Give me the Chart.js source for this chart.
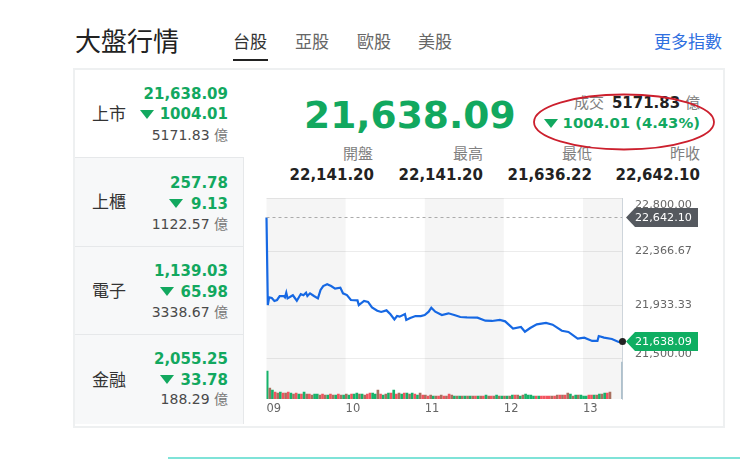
<!DOCTYPE html>
<html>
<head>
<meta charset="utf-8">
<script src="https://cdn.jsdelivr.net/npm/chart.js@4"></script>
<style>
html, body { margin: 0; padding: 0; background: #fff; overflow: hidden; }
body { width: 740px; height: 459px; position: relative; font-family: "DejaVu Sans", "Noto Sans CJK TC", sans-serif; }
.t { position: absolute; white-space: nowrap; line-height: 20px; height: 20px; }
.r { text-align: right; }
.cjk { font-family: "Noto Sans CJK TC", sans-serif; }
.g { color: #12a85f; font-weight: bold; font-size: 15px; }
.k { color: #4a4a4a; font-size: 14px; }
.lb { color: #808080; font-size: 15px; font-family: "Noto Sans CJK TC", sans-serif; }
.v { color: #222; font-weight: bold; font-size: 15px; }
.tab { color: #666; font-size: 17px; font-family: "Noto Sans CJK TC", sans-serif; }
.name { color: #333; font-size: 17px; font-family: "Noto Sans CJK TC", sans-serif; }
.tri { position: absolute; width: 0; height: 0; border-left: 7px solid transparent; border-right: 7px solid transparent; border-top: 9px solid #12a85f; }
#card { position: absolute; left: 73px; top: 68px; width: 648px; height: 356px; border: 2px solid #eef0f1; box-sizing: content-box; }
.row { position: absolute; left: 75px; width: 168px; background: #f7f8f9; border-top: 1px solid #e6e8ea; border-right: 1px solid #e6e8ea; }
canvas { position: absolute; left: 260px; top: 190px; }
#foot { position: absolute; left: 168px; top: 457px; width: 572px; height: 2px; background: #7fe3d8; }
svg { position: absolute; left: 0; top: 0; }
</style>
</head>
<body>
<div class="t cjk" style="left:75px;top:24px;height:32px;line-height:32px;font-size:26px;color:#222">大盤行情</div>
<div class="t tab" style="left:233px;top:31px;color:#333">台股</div>
<div style="position:absolute;left:233px;top:59px;width:35px;height:2px;background:#222"></div>
<div class="t tab" style="left:295px;top:31px">亞股</div>
<div class="t tab" style="left:357px;top:31px">歐股</div>
<div class="t tab" style="left:418px;top:31px">美股</div>
<div class="t tab" style="left:654px;top:31px;color:#2f6fe0">更多指數</div>

<div id="card"></div>
<div class="row" style="top:157px;height:88px"></div>
<div class="row" style="top:246px;height:87px"></div>
<div class="row" style="top:334px;height:89px"></div>

<div class="t name" style="left:92px;top:103px">上市</div>
<div class="t g r" style="right:512px;top:84px">21,638.09</div>
<div class="tri" style="left:140px;top:110px"></div>
<div class="t g r" style="right:512px;top:104px">1004.01</div>
<div class="t k r" style="right:512px;top:124px">5171.83 <span class="cjk" style="color:#777">億</span></div>

<div class="t name" style="left:92px;top:191px">上櫃</div>
<div class="t g r" style="right:512px;top:173px">257.78</div>
<div class="tri" style="left:169px;top:199px"></div>
<div class="t g r" style="right:512px;top:194px">9.13</div>
<div class="t k r" style="right:512px;top:213px">1122.57 <span class="cjk" style="color:#777">億</span></div>

<div class="t name" style="left:92px;top:280px">電子</div>
<div class="t g r" style="right:512px;top:261px">1,139.03</div>
<div class="tri" style="left:160px;top:287px"></div>
<div class="t g r" style="right:512px;top:282px">65.98</div>
<div class="t k r" style="right:512px;top:301px">3338.67 <span class="cjk" style="color:#777">億</span></div>

<div class="t name" style="left:92px;top:369px">金融</div>
<div class="t g r" style="right:512px;top:349px">2,055.25</div>
<div class="tri" style="left:160px;top:375px"></div>
<div class="t g r" style="right:512px;top:370px">33.78</div>
<div class="t k r" style="right:512px;top:388px">188.29 <span class="cjk" style="color:#777">億</span></div>

<div class="t g" style="left:304px;top:90px;height:50px;line-height:50px;font-size:37.6px">21,638.09</div>

<div class="t r" style="right:40px;top:92px;font-size:15px;color:#222"><span class="cjk" style="color:#808080;margin-right:3px">成交</span> <b>5171.83</b> <span class="cjk" style="color:#808080">億</span></div>
<div class="tri" style="left:544px;top:119px"></div>
<div class="t g r" style="right:40px;top:113px;font-size:14.8px">1004.01 (4.43%)</div>

<div class="t lb r" style="right:367px;top:143px">開盤</div>
<div class="t lb r" style="right:257px;top:143px">最高</div>
<div class="t lb r" style="right:148px;top:143px">最低</div>
<div class="t lb r" style="right:40px;top:143px">昨收</div>
<div class="t v r" style="right:366px;top:165px">22,141.20</div>
<div class="t v r" style="right:257px;top:165px">22,141.20</div>
<div class="t v r" style="right:148px;top:165px">21,636.22</div>
<div class="t v r" style="right:40px;top:165px">22,642.10</div>

<canvas id="marketChart" width="460" height="230"></canvas>

<svg width="740" height="459"><ellipse cx="624" cy="122" rx="90" ry="27.5" fill="none" stroke="#cc1f2d" stroke-width="1.8"/></svg>
<div id="foot"></div>

<script>
// 盤中走勢 (從圖上讀出的估計值)
const minutes = [0, 1, 2, 4, 6, 8, 10, 13, 14, 15, 16, 19, 20, 23, 26, 28, 30, 31, 33, 36, 39, 41, 43, 46, 49, 52, 56, 58, 61, 64, 69, 70, 74, 77, 80, 84, 87, 91, 94, 97, 99, 101, 105, 106, 109, 113, 117, 120, 123, 125, 128, 133, 138, 143, 147, 152, 160, 166, 171, 177, 181, 187, 193, 196, 200, 205, 212, 217, 224, 229, 236, 241, 247, 251, 252, 256, 262, 267, 270];
const index = [22642.1, 21933, 21995, 21990, 21966, 21974, 22006, 22006, 21995, 22033, 21987, 22006, 22012, 21968, 22022, 22012, 22033, 22006, 22028, 22006, 21987, 22055, 22087, 22101, 22087, 22066, 22074, 22028, 22014, 21974, 21971, 21933, 21966, 21958, 21914, 21887, 21877, 21890, 21858, 21817, 21844, 21839, 21860, 21812, 21828, 21844, 21844, 21852, 21879, 21912, 21879, 21852, 21866, 21850, 21836, 21833, 21831, 21806, 21804, 21812, 21801, 21742, 21755, 21717, 21747, 21777, 21788, 21774, 21725, 21715, 21661, 21669, 21642, 21642, 21682, 21669, 21658, 21634, 21638.09];

// 成交量,每兩分鐘一根,最後一根是收盤
const volume = [112, 44, 36, 28, 24, 28, 24, 24, 28, 24, 20, 24, 20, 20, 28, 20, 20, 16, 20, 20, 16, 20, 16, 16, 20, 16, 16, 20, 16, 16,
  20, 16, 20, 20, 24, 20, 20, 16, 20, 24, 24, 20, 36, 20, 16, 20, 24, 24, 36, 20, 24, 20, 24, 24, 20, 24, 20, 16, 24, 16,
  16, 12, 16, 12, 12, 12, 16, 12, 12, 20, 16, 12, 12, 12, 12, 12, 12, 12, 12, 12, 12, 12, 12, 16, 12, 12, 12, 16, 12, 12,
  12, 12, 12, 16, 16, 16, 12, 16, 20, 16, 16, 12, 12, 12, 12, 12, 12, 12, 12, 12, 16, 16, 16, 16, 24, 20, 12, 16, 16, 16,
  12, 12, 16, 16, 16, 16, 20, 20, 24, 24, 28, 148];
const volumeSide = 'gbgrbgrbrgbrgrgbrbggbrbgrbgrbg' + 'bgrggbgbrrggbrgbgrgrbgrgbgrgbr' + 'brbgbrbrbrbgbgbgbgbrgbrgbrbgbg' + 'bgbgrbgbggggrgrrrrbrbrbrbgbgbg' + 'ggrrgbgbgrbb';
const volumeMinutes = volume.map((v, i) => i === volume.length - 1 ? 270 : i * 2 + 0.5);

const yTicks = [22800, 22366.67, 21933.33, 21500];
const yTickLabels = ['22,800.00', '22,366.67', '21,933.33', '21,500.00'];
const hourLabels = ['09', '10', '11', '12', '13'];
const prevClose = 22642.10;
const lastPrice = 21638.09;
const shadedHours = [[0, 60], [120, 180], [240, 270]];

const sideColor = { g: '#16b36a', r: '#f2545f', b: '#a8705f' };

function drawTag(ctx, x, y, text, color) {
    ctx.save();
    ctx.fillStyle = color;
    ctx.beginPath();
    ctx.moveTo(x, y);
    ctx.lineTo(x + 9, y - 9.5);
    ctx.lineTo(x + 72, y - 9.5);
    ctx.lineTo(x + 72, y + 9.5);
    ctx.lineTo(x + 9, y + 9.5);
    ctx.closePath();
    ctx.fill();
    ctx.fillStyle = '#fff';
    ctx.font = '11.2px "DejaVu Sans"';
    ctx.textBaseline = 'middle';
    ctx.fillText(text, x + 9, y + 0.5);
    ctx.restore();
}

const bandsAndTags = {
    id: 'bandsAndTags',
    beforeDatasetsDraw(chart) {
        const { ctx, chartArea, scales } = chart;
        ctx.save();
        ctx.fillStyle = 'rgba(0,0,0,0.04)';
        shadedHours.forEach(h => {
            const x1 = scales.x.getPixelForValue(h[0]);
            const x2 = scales.x.getPixelForValue(h[1]);
            ctx.fillRect(x1, chartArea.top, x2 - x1, chartArea.bottom - chartArea.top);
        });
        ctx.restore();
    },
    afterDraw(chart) {
        const { ctx, chartArea, scales } = chart;
        const tagX = chartArea.right + 3.5;
        drawTag(ctx, tagX, scales.y.getPixelForValue(prevClose), '22,642.10', '#55595f');
        drawTag(ctx, tagX, scales.y.getPixelForValue(lastPrice), '21,638.09', '#0fae62');
    }
};

new Chart(document.getElementById('marketChart'), {
    data: {
        datasets: [
            {
                type: 'line',
                data: [{ x: 0, y: prevClose }, { x: 270, y: prevClose }],
                borderColor: '#aaa',
                borderWidth: 1,
                borderDash: [3, 3],
                pointRadius: 0
            },
            {
                type: 'line',
                data: minutes.map((m, i) => ({ x: m, y: index[i] })),
                borderColor: '#1668e3',
                borderWidth: 2.2,
                tension: 0,
                pointRadius: ctx => ctx.dataIndex === minutes.length - 1 ? 3.5 : 0,
                pointBackgroundColor: '#222',
                pointBorderWidth: 0,
                clip: false
            },
            {
                type: 'bar',
                yAxisID: 'y2',
                data: volume.map((v, i) => ({ x: volumeMinutes[i], y: v })),
                backgroundColor: volume.map((v, i) => i === volume.length - 1 ? '#9fb6c4' : sideColor[volumeSide[i]]),
                barThickness: 2,
                borderWidth: 0
            }
        ]
    },
    options: {
        responsive: false,
        animation: false,
        events: [],
        layout: { padding: { left: 6.5, top: 8, right: 0, bottom: 0 } },
        plugins: { legend: { display: false }, tooltip: { enabled: false } },
        scales: {
            x: {
                type: 'linear',
                offset: false,
                min: 0,
                max: 270,
                afterFit: s => { s.height = 21; s.paddingLeft = 0; s.paddingRight = 0; },
                afterBuildTicks: s => { s.ticks = hourLabels.map((h, i) => ({ value: i * 60 })); },
                grid: { display: false, drawTicks: false },
                border: { display: false },
                ticks: {
                    autoSkip: false,
                    maxRotation: 0,
                    align: 'start',
                    padding: 3,
                    color: '#666',
                    font: { family: 'DejaVu Sans', size: 11.5 },
                    callback: v => hourLabels[v / 60]
                }
            },
            y: {
                type: 'linear',
                position: 'right',
                min: 21172,
                max: 22800,
                afterFit: s => { s.width = 97.5; s.paddingTop = 0; s.paddingBottom = 0; },
                afterBuildTicks: s => { s.ticks = yTicks.map(v => ({ value: v })); },
                grid: { color: '#ececec', lineWidth: 1, drawTicks: false },
                border: { display: true, color: '#d3dae0' },
                ticks: {
                    autoSkip: false,
                    padding: 12.5,
                    color: '#666',
                    font: ctx => ({ family: 'DejaVu Sans', size: 11.2, lineHeight: ctx.index === 0 ? 1.2 : ctx.index === 3 ? 0.7 : 0.9 }),
                    // 上下兩個標籤往內挪一點,跟原圖一樣
                    callback: (v, i) => i === 0 ? ['', yTickLabels[0]] : i === 3 ? [yTickLabels[3], ''] : yTickLabels[i]
                }
            },
            y2: { type: 'linear', display: false, min: 0, max: 804 }
        }
    },
    plugins: [bandsAndTags]
});
</script>
</body>
</html>
